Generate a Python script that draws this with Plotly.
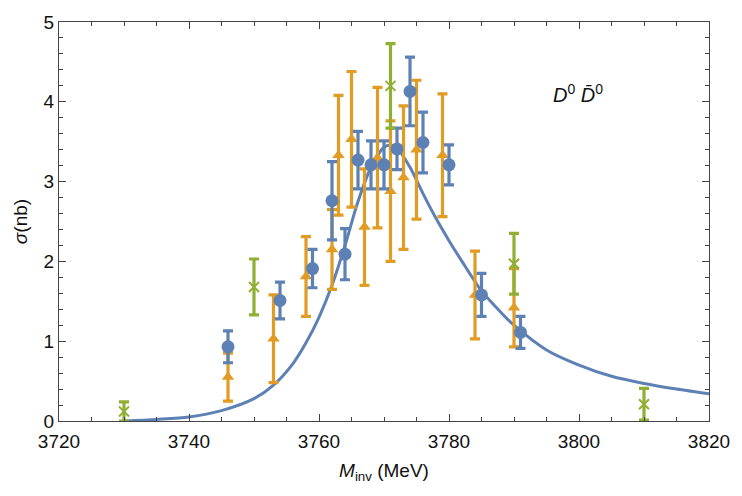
import plotly.graph_objects as go

# ---- data ----
blue_x = [3746, 3754, 3759, 3762, 3764, 3766, 3768, 3770, 3772, 3774, 3776, 3780, 3785, 3791]
blue_y = [0.93, 1.51, 1.91, 2.76, 2.09, 3.27, 3.21, 3.21, 3.41, 4.13, 3.49, 3.21, 1.58, 1.11]
blue_e = [0.20, 0.23, 0.24, 0.49, 0.32, 0.36, 0.30, 0.30, 0.26, 0.43, 0.38, 0.25, 0.27, 0.20]

orange_x = [3746, 3753, 3758, 3762, 3763, 3765, 3767, 3769, 3771, 3773, 3775, 3779, 3784, 3790]
orange_y = [0.55, 1.03, 1.81, 2.15, 3.33, 3.53, 2.43, 3.30, 2.88, 3.05, 3.40, 3.33, 1.58, 1.42]
orange_e = [0.30, 0.55, 0.50, 0.50, 0.75, 0.85, 0.73, 0.88, 0.88, 0.90, 0.87, 0.77, 0.55, 0.49]

green_x = [3730, 3750, 3771, 3790, 3810]
green_y = [0.12, 1.68, 4.20, 1.97, 0.21]
green_e = [0.12, 0.35, 0.53, 0.38, 0.20]

curve_x = [3730, 3735, 3740, 3745, 3750, 3753, 3756, 3758, 3760, 3762, 3764, 3766, 3768,
           3770, 3771, 3772, 3774, 3776, 3778, 3780, 3782, 3785, 3788, 3790, 3795, 3800,
           3805, 3810, 3815, 3820]
curve_y = [0.00, 0.02, 0.05, 0.13, 0.28, 0.45, 0.72, 0.98, 1.30, 1.70, 2.20, 2.75, 3.18,
           3.43, 3.46, 3.42, 3.18, 2.85, 2.54, 2.26, 2.00, 1.63, 1.36, 1.20, 0.89, 0.70,
           0.56, 0.47, 0.40, 0.34]

BLUE = "#5E81B5"
ORANGE = "#E19C24"
GREEN = "#8FB032"
FONT = "Liberation Sans"

fig = go.Figure()
fig.add_trace(go.Scatter(x=curve_x, y=curve_y, mode="lines",
                         line=dict(color=BLUE, width=3, shape="spline", smoothing=0.8),
                         hoverinfo="skip", showlegend=False))
fig.add_trace(go.Scatter(x=orange_x, y=orange_y, mode="markers",
                         marker=dict(symbol="triangle-up", size=11, color=ORANGE),
                         error_y=dict(type="data", array=orange_e, color=ORANGE,
                                      thickness=3.2, width=5),
                         showlegend=False))
fig.add_trace(go.Scatter(x=blue_x, y=blue_y, mode="markers",
                         marker=dict(symbol="circle", size=13, color=BLUE),
                         error_y=dict(type="data", array=blue_e, color=BLUE,
                                      thickness=3.2, width=5),
                         showlegend=False))
fig.add_trace(go.Scatter(x=green_x, y=green_y, mode="markers",
                         marker=dict(symbol="x-thin-open", size=10, color=GREEN,
                                     line=dict(color=GREEN, width=2)),
                         error_y=dict(type="data", array=green_e, color=GREEN,
                                      thickness=3.2, width=5),
                         showlegend=False))

axis_common = dict(showline=True, linecolor="#444", linewidth=1.2, mirror="ticks",
                   ticks="inside", tickcolor="#444", tickwidth=1.2, ticklen=7,
                   showgrid=False, zeroline=False,
                   tickfont=dict(family=FONT, size=19, color="#111"))

fig.update_xaxes(range=[3720, 3820], dtick=20, tick0=3720, ticklabelstandoff=3,
                 minor=dict(dtick=5, ticks="inside", ticklen=4, tickcolor="#444", tickwidth=1.2),
                 title=dict(text="<i>M</i><sub>inv</sub> (MeV)",
                            font=dict(family=FONT, size=19, color="#111"), standoff=12),
                 **axis_common)
fig.update_yaxes(range=[0, 5], dtick=1, tick0=0,
                 minor=dict(dtick=0.2, ticks="inside", ticklen=4, tickcolor="#444", tickwidth=1.2),
                 title=dict(text="<i>σ</i>(nb)",
                            font=dict(family=FONT, size=19, color="#111"), standoff=10),
                 **axis_common)

fig.add_annotation(x=3799.8, y=4.1, xref="x", yref="y", showarrow=False,
                   text="<i>D</i><sup>0</sup> <i>D̄</i><sup>0</sup>",
                   font=dict(family=FONT, size=20, color="#111"))

fig.update_layout(width=742, height=496,
                  margin=dict(l=58.5, r=24.3, t=13, b=75.3),
                  paper_bgcolor="white", plot_bgcolor="white")

fig.write_html("out.html")
